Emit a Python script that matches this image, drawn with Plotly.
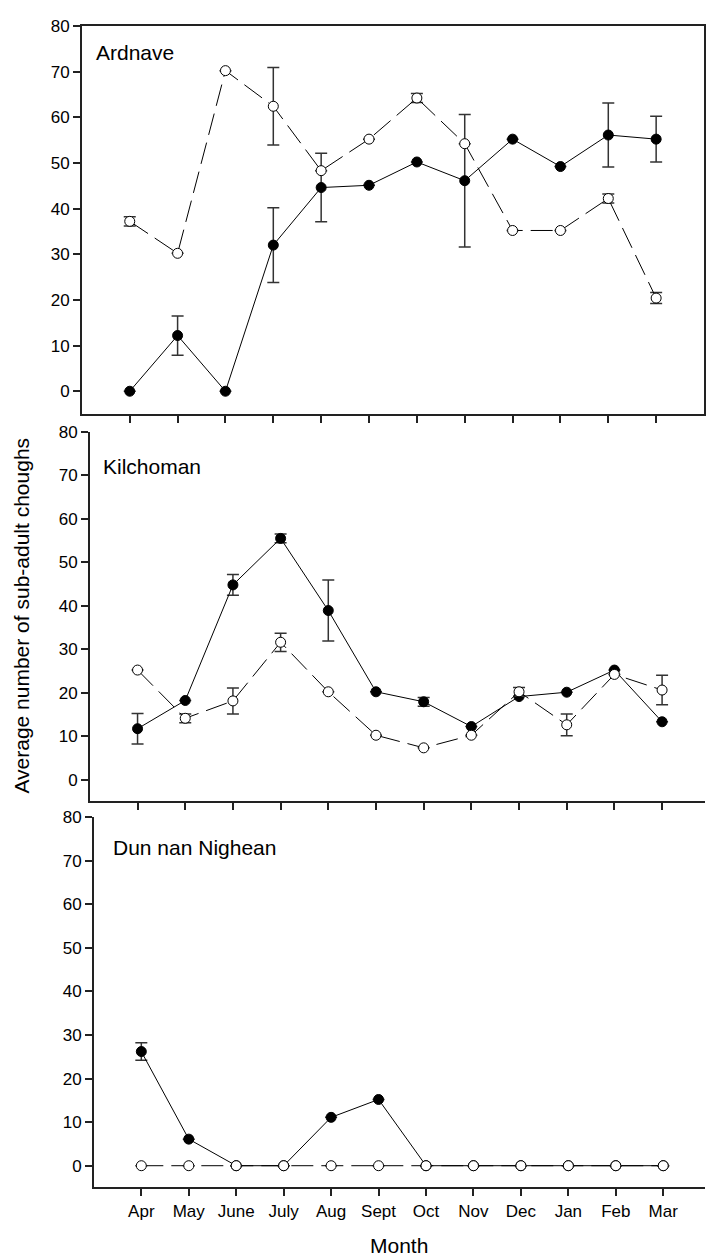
import plotly.graph_objects as go

W, H = 706, 1256

months = ["Apr", "May", "June", "July", "Aug", "Sept", "Oct", "Nov", "Dec", "Jan", "Feb", "Mar"]

# Ardnave
ard_filled = [0, 12.2, 0, 32.0, 44.6, 45.1, 50.2, 46.1, 55.2, 49.2, 56.1, 55.2]
ard_filled_err = [None, 4.3, None, 8.2, 7.5, None, None, 14.5, None, None, 7.0, 5.0]
ard_open = [37.2, 30.2, 70.2, 62.4, 48.3, 55.2, 64.2, 54.2, 35.2, 35.2, 42.2, 20.4]
ard_open_err = [1.0, None, None, 8.5, None, None, 1.0, None, None, None, 1.0, 1.2]

# Kilchoman
kil_filled = [11.7, 18.2, 44.8, 55.5, 38.9, 20.2, 17.9, 12.2, 19.1, 20.1, 25.2, 13.3]
kil_filled_err = [3.5, None, 2.4, 1.0, 7.0, None, 1.0, None, None, None, None, None]
kil_open = [25.2, 14.1, 18.1, 31.6, 20.2, 10.2, 7.3, 10.2, 20.2, 12.6, 24.2, 20.6]
kil_open_err = [None, 1.0, 3.0, 2.1, None, None, None, None, 1.0, 2.5, None, 3.4]

# Dun nan Nighean
dun_filled = [26.2, 6.1, 0, 0, 11.1, 15.2, 0, 0, 0, 0, 0, 0]
dun_filled_err = [2.0, None, None, None, None, None, None, None, None, None, None, None]
dun_open = [0, 0, 0, 0, 0, 0, 0, 0, 0, 0, 0, 0]
dun_open_err = [None] * 12

panel_names = ["Ardnave", "Kilchoman", "Dun nan Nighean"]
y_ticks = [0, 10, 20, 30, 40, 50, 60, 70, 80]

panels = [
    (ard_filled, ard_filled_err, ard_open, ard_open_err),
    (kil_filled, kil_filled_err, kil_open, kil_open_err),
    (dun_filled, dun_filled_err, dun_open, dun_open_err),
]

# pixel geometry of each panel: (left, right, top, bottom, xmax)
geom = [
    (82, 705, 17, 408, 12.0),
    (90, 706, 426, 798, 11.9),
    (94, 706, 814, 1187, 11.88),
]

fig = go.Figure()
xs = list(range(len(months)))
ERR_COL = "#333333"

for i, (fv, fe, ov, oe) in enumerate(panels):
    n = "" if i == 0 else str(i + 1)
    xa, ya = "x" + n, "y" + n
    fig.add_trace(go.Scatter(
        x=xs, y=fv, xaxis=xa, yaxis=ya, mode="lines+markers",
        line=dict(color="black", width=1),
        marker=dict(symbol="circle", size=10, color="black", line=dict(color="black", width=1)),
        error_y=dict(type="data", array=fe, visible=True, color=ERR_COL, thickness=1.5, width=6),
        showlegend=False, cliponaxis=False,
    ))
    fig.add_trace(go.Scatter(
        x=xs, y=ov, xaxis=xa, yaxis=ya, mode="lines+markers",
        line=dict(color="black", width=1, dash="22px,8px"),
        marker=dict(symbol="circle", size=10, color="white", line=dict(color="black", width=1)),
        error_y=dict(type="data", array=oe, visible=True, color=ERR_COL, thickness=1.5, width=6),
        showlegend=False, cliponaxis=False,
    ))

layout = dict(
    width=W, height=H,
    margin=dict(l=0, r=0, t=0, b=0),
    paper_bgcolor="white", plot_bgcolor="white",
    font=dict(family="Liberation Sans, Arial, sans-serif", color="black", size=17),
)

for i, (l, r, t, b, xmax) in enumerate(geom):
    n = "" if i == 0 else str(i + 1)
    box = (i == 0)
    layout["xaxis" + n] = dict(
        domain=[l / W, r / W], range=[-1, xmax], anchor="y" + n,
        tickmode="array", tickvals=xs, ticktext=months,
        showticklabels=(i == 2), ticks="outside", ticklen=7, tickwidth=1.5, tickcolor="#222",
        showline=True, linecolor="#222", linewidth=1.5, mirror=box,
        showgrid=False, zeroline=False, tickfont=dict(size=17),
    )
    layout["yaxis" + n] = dict(
        domain=[1 - b / H, 1 - t / H], range=[-5, 80], anchor="x" + n,
        tickmode="array", tickvals=y_ticks,
        ticks="outside", ticklen=7, tickwidth=1.5, tickcolor="#222",
        showline=True, linecolor="#222", linewidth=1.5, mirror=box,
        showgrid=False, zeroline=False, tickfont=dict(size=17),
    )

fig.update_layout(**layout)

label_pos = [(94, 44), (101, 461), (111, 845)]
for name, (px, py) in zip(panel_names, label_pos):
    fig.add_annotation(text=name, x=px / W, y=1 - py / H, xref="paper", yref="paper",
                       xanchor="left", yanchor="middle", showarrow=False, font=dict(size=21))

fig.add_annotation(text="Average number of sub-adult choughs", x=22 / W, y=1 - 611 / H,
                   xref="paper", yref="paper", textangle=-90, xanchor="center", yanchor="middle",
                   showarrow=False, font=dict(size=21))
fig.add_annotation(text="Month", x=400 / W, y=1 - 1245 / H, xref="paper", yref="paper",
                   xanchor="center", yanchor="middle", showarrow=False, font=dict(size=21))

fig.write_html("out.html")
